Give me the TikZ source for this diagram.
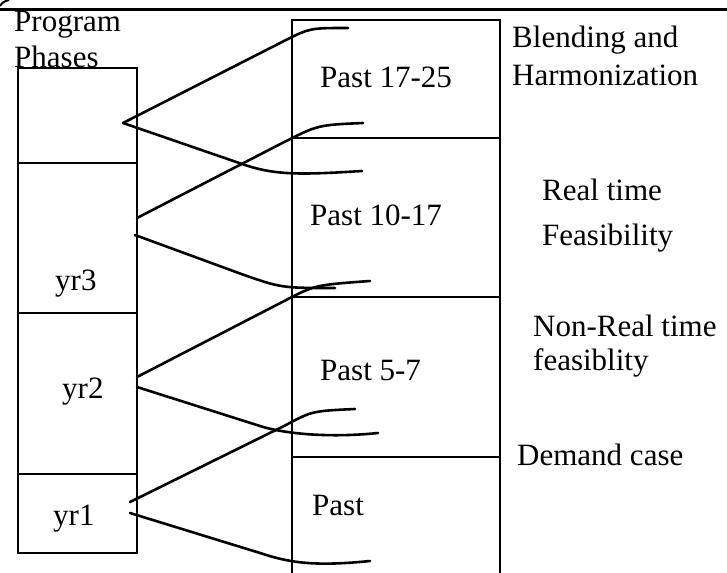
\documentclass[tikz,border=0pt]{standalone}
\usepackage{fontspec}
\setmainfont{Liberation Serif}
\begin{document}
\begin{tikzpicture}[x=1pt,y=-1pt,
  box/.style={draw, line width=1.9pt, rectangle, inner sep=0pt},
  lbl/.style={anchor=base west, inner sep=0pt, font=\fontsize{31}{36}\selectfont},
  link/.style={line width=2.6pt, line cap=round}]
\clip (0,0) rectangle (727,572);
\fill[white] (0,0) rectangle (727,572);
% top rule
\coordinate (tl) at (0,10);
\coordinate (tr) at (727,10);
\draw[line width=3pt] (tl) -- (tr);
\coordinate (m1) at (0,6);
\coordinate (m2) at (9,0);
\draw[line width=2pt] (m1) .. controls (3,2) .. (m2);
% left column
\node[box, minimum width=119pt, minimum height=95pt]  (L1) at (77.5,115.5) {};
\node[box, minimum width=119pt, minimum height=150pt] (L2) at (77.5,238) {};
\node[box, minimum width=119pt, minimum height=161pt] (L3) at (77.5,393.5) {};
\node[box, minimum width=119pt, minimum height=79pt]  (L4) at (77.5,513.5) {};
% right column
\node[box, minimum width=208pt, minimum height=118pt] (R1) at (396,79) {};
\node[box, minimum width=208pt, minimum height=159pt] (R2) at (396,217.5) {};
\node[box, minimum width=208pt, minimum height=160pt] (R3) at (396,377) {};
\node[box, minimum width=208pt, minimum height=143pt] (R4) at (396,528.5) {};
% texts
\node[lbl] (tProg) at (14,32) {Program};
\node[lbl] (tPhas) at (14,68) {Phases};
\node[lbl] (tyr3) at (55,290) {yr3};
\node[lbl] (tyr2) at (62,398) {yr2};
\node[lbl] (tyr1) at (53,525) {yr1};
\node[lbl] (tP1) at (320,88) {Past 17-25};
\node[lbl] (tP2) at (310,225) {Past 10-17};
\node[lbl] (tP3) at (320,380) {Past 5-7};
\node[lbl] (tP4) at (312,515) {Past};
\node[lbl] (tB1) at (512,48) {Blending and};
\node[lbl] (tB2) at (512,86) {Harmonization};
\node[lbl] (tR1) at (542,200) {Real time};
\node[lbl] (tR2) at (542,245) {Feasibility};
\node[lbl] (tN1) at (533,336) {Non-Real time};
\node[lbl] (tN2) at (533,370) {feasiblity};
\node[lbl] (tD) at (517,465) {Demand case};
% connector points
\coordinate (a1) at (123,123);
\coordinate (a2u) at (137,218);
\coordinate (a2d) at (135,235);
\coordinate (a3u) at (137,377);
\coordinate (a3d) at (137,387);
\coordinate (a4u) at (130,502);
\coordinate (a4d) at (130,513);
\coordinate (e1u) at (348,28);
\coordinate (e1d) at (362,171);
\coordinate (e2u) at (363,123);
\coordinate (e2d) at (335,288);
\coordinate (e3u) at (370,281);
\coordinate (e3d) at (378,433);
\coordinate (e4u) at (355,409);
\coordinate (e4d) at (370,561);
% connectors
\draw[link] (a1) -- (285,40.5) .. controls (310,28) .. (e1u);
\draw[link] (a1) -- (245,165) .. controls (275,175) and (300,175) .. (e1d);
\draw[link] (a2u) -- (285,141.6) .. controls (318,125) .. (e2u);
\draw[link] (a2d) -- (240,273.5) .. controls (281,288) .. (e2d);
\draw[link] (a3u) -- (285,300.6) .. controls (315,285) .. (e3u);
\draw[link] (a3d) -- (260,426) .. controls (285,434) and (330,438) .. (e3d);
\draw[link] (a4u) -- (285,425.5) .. controls (312,411) .. (e4u);
\draw[link] (a4d) -- (262,553.6) .. controls (293,564) and (320,566) .. (e4d);
\end{tikzpicture}
\end{document}
